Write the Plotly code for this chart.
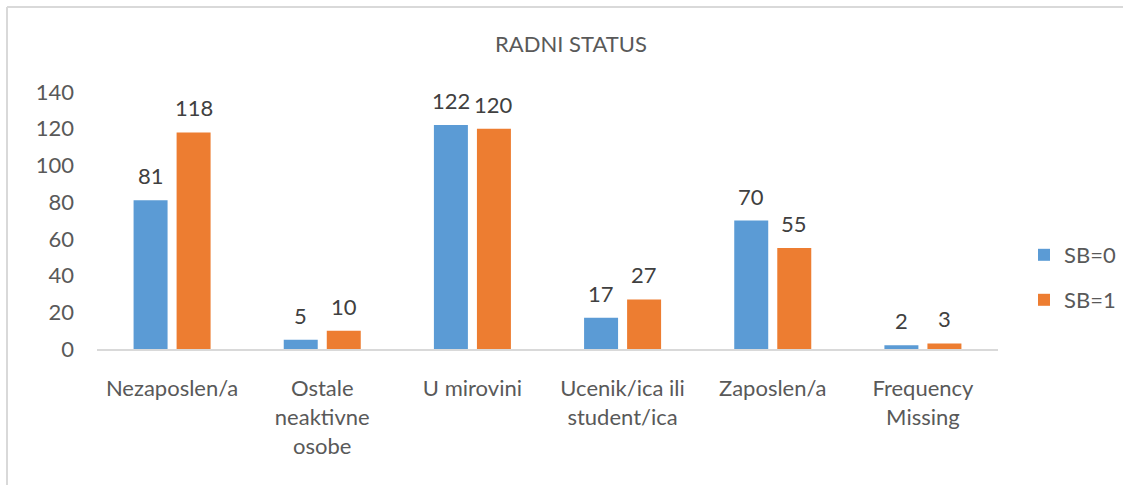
import plotly.graph_objects as go

categories = ["Nezaposlen/a", "Ostale<br>neaktivne<br>osobe", "U mirovini",
              "Ucenik/ica ili<br>student/ica", "Zaposlen/a", "Frequency<br>Missing"]
sb0 = [81, 5, 122, 17, 70, 2]
sb1 = [118, 10, 120, 27, 55, 3]
series_names = ["SB=0", "SB=1"]
y_ticks = [0, 20, 40, 60, 80, 100, 120, 140]

W, H = 1123, 485
L, R, T, B = 97, W - 998, 92, H - 349
pw, ph = W - L - R, H - T - B

def px_x(x):
    return (x - L) / pw

def px_y(y):
    return (H - B - y) / ph

FONT = "Lato, 'Open Sans', sans-serif"
FS = 22
TXT = "#595959"
colors = ["#5B9BD5", "#ED7D31"]

fig = go.Figure()
for name, vals, col, lg in zip(series_names, [sb0, sb1], colors, ["legend", "legend2"]):
    fig.add_trace(go.Bar(x=categories, y=vals, name=name, marker_color=col,
                         marker_line_width=0, legend=lg, showlegend=True))

annotations = []
for vals, shift in zip([sb0, sb1], [-21.5, 21.5]):
    for c, v in zip(categories, vals):
        annotations.append(dict(x=c, y=v, text=str(v), showarrow=False, xshift=shift,
                                yshift=9, yanchor="bottom",
                                font=dict(family=FONT, size=FS, color="#404040")))

annotations.append(dict(text="RADNI STATUS", x=px_x(571), y=px_y(43), xref="paper", yref="paper",
                        showarrow=False, xanchor="center", yanchor="middle",
                        font=dict(family=FONT, size=FS, color=TXT)))

fig.update_layout(
    width=W, height=H,
    margin=dict(l=L, r=R, t=T, b=B, autoexpand=False),
    paper_bgcolor="white", plot_bgcolor="white",
    font=dict(family=FONT, size=FS, color=TXT),
    barmode="group", bargap=0.427, bargroupgap=0.21,
    annotations=annotations,
    showlegend=True,
    legend=dict(x=px_x(1024), y=px_y(255), xanchor="left", yanchor="middle",
                font=dict(family=FONT, size=FS, color=TXT), bgcolor="rgba(0,0,0,0)"),
    legend2=dict(x=px_x(1024), y=px_y(300), xanchor="left", yanchor="middle",
                 font=dict(family=FONT, size=FS, color=TXT), bgcolor="rgba(0,0,0,0)"),
    xaxis=dict(showgrid=False, showline=True, linecolor="#d9d9d9", linewidth=2,
               ticks="", tickfont=dict(family=FONT, size=FS, color=TXT),
               ticklabelstandoff=19, zeroline=False),
    yaxis=dict(range=[0, 140], tickvals=y_ticks, showgrid=False, zeroline=False,
               showline=False, ticks="", tickfont=dict(family=FONT, size=FS, color=TXT),
               ticklabelstandoff=22),
    shapes=[
        dict(type="line", xref="paper", yref="paper", x0=px_x(7), x1=px_x(W + 5),
             y0=px_y(7), y1=px_y(7), line=dict(color="#d9d9d9", width=2)),
        dict(type="line", xref="paper", yref="paper", x0=px_x(7), x1=px_x(7),
             y0=px_y(7), y1=px_y(H + 5), line=dict(color="#d9d9d9", width=2)),
    ],
)

fig.write_html("out.html", config={"displayModeBar": False},
               post_script="document.body.style.margin='0';")
